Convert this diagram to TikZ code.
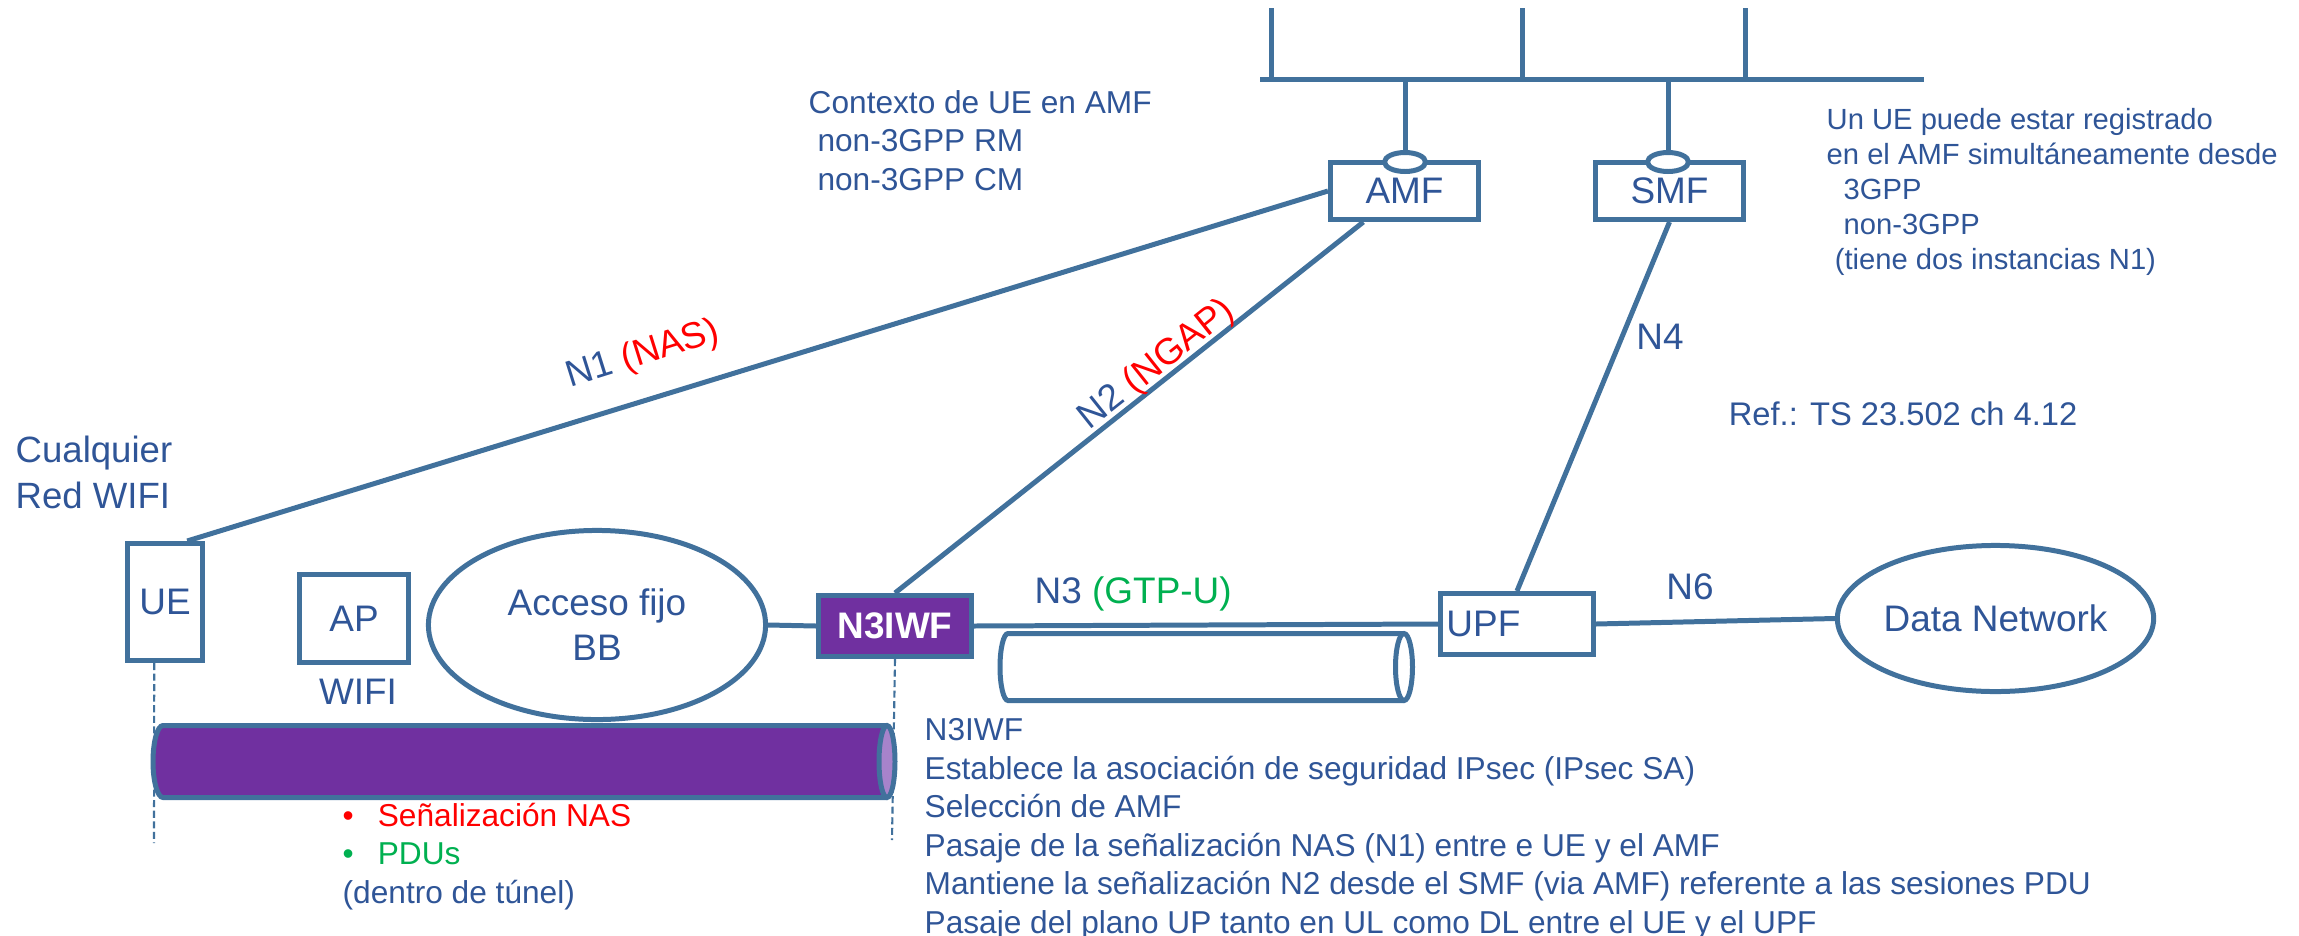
\documentclass[tikz,border=0pt]{standalone}
\usepackage{fontspec}
\setmainfont{Liberation Sans}
\usetikzlibrary{shapes.geometric}
\definecolor{lineblue}{RGB}{65,113,156}
\definecolor{txtblue}{RGB}{47,85,151}
\definecolor{tunnelpurple}{RGB}{112,48,160}
\definecolor{tunnelend}{RGB}{167,131,203}
\definecolor{gtpgreen}{RGB}{0,176,80}
\begin{document}
\begin{tikzpicture}[x=0.01cm,y=-0.01cm,
  link/.style={draw=lineblue,line width=1.42pt},
  nf/.style={draw=lineblue,line width=1.42pt,fill=white,text=txtblue,inner sep=0pt,font=\fontsize{10.5}{12.8}\selectfont},
  cloud/.style={nf,ellipse,align=center},
  port/.style={draw=lineblue,line width=1.42pt,fill=white,ellipse,minimum width=0.41cm,minimum height=0.19cm,inner sep=0pt},
  guide/.style={draw=lineblue,line width=0.6pt,dash pattern=on 2pt off 1pt},
  big/.style={text=txtblue,inner sep=0pt,font=\fontsize{10.5}{12.8}\selectfont},
  note/.style={text=txtblue,inner sep=0pt,align=left,font=\fontsize{9}{10.93}\selectfont}]
  \useasboundingbox (0,0) rectangle (2299,936);

  % service bus
  \coordinate (busL) at (1260,79);
  \coordinate (busR) at (1924,79);
  \draw[link] (busL) -- (busR);
  \foreach \x in {1271,1522,1745} \draw[link] (\x,79) -- (\x,8);

  % network functions
  \node[nf,minimum width=0.75cm,minimum height=1.17cm] (UE) at (165,602) {UE};
  \node[nf,minimum width=1.09cm,minimum height=0.88cm] (AP) at (354,618.5) {AP};
  \node[big] at (358,692) {WIFI};
  \node[cloud,minimum width=3.37cm,minimum height=1.89cm] (BB) at (597,625) {Acceso fijo\\BB};
  \node[nf,fill=tunnelpurple,text=white,font=\bfseries\fontsize{10.5}{12.8}\selectfont,minimum width=1.53cm,minimum height=0.61cm] (N3IWF) at (895,626) {N3IWF};
  \node[nf,minimum width=1.48cm,minimum height=0.57cm] (AMF) at (1404.5,191) {AMF};
  \node[nf,minimum width=1.48cm,minimum height=0.57cm] (SMF) at (1669.5,191) {SMF};
  \node[nf,text width=1.41cm,inner xsep=0.06cm,minimum height=0.61cm,align=left] (UPF) at (1517,624) {UPF};
  \node[cloud,minimum width=3.08cm,minimum height=1.46cm] (DN) at (1995.5,618.5) {Data Network};
  \node[port] (amfport) at (1405,162) {};
  \node[port] (smfport) at (1668,162) {};
  \draw[link] (amfport) -- (amfport |- busL);
  \draw[link] (smfport) -- (smfport |- busL);

  % interfaces
  \draw[link] (UE.70) -- (AMF.west);
  \node[big,rotate=17.4] at (643,355) {N1 \textcolor{red}{(NAS)}};
  \draw[link] (N3IWF.north) -- (AMF.-143);
  \node[big,rotate=38.5] at (1157,365) {N2 \textcolor{red}{(NGAP)}};
  \draw[link] (UPF.north) -- (SMF.south);
  \node[big] at (1660,337) {N4};
  \draw[link] (BB.east) -- (N3IWF.west);
  \draw[link] (N3IWF.east) -- (UPF.west);
  \node[big,anchor=base west] at (1034,603) {N3 \textcolor{gtpgreen}{(GTP-U)}};
  \draw[link] (UPF.east) -- (DN.west);
  \node[big] at (1690,587) {N6};

  % tunnels
  \coordinate (ueFoot) at (154,843);
  \coordinate (n3Foot) at (892,840);
  \draw[guide] (UE.-100) -- (ueFoot);
  \draw[guide] (N3IWF.south) -- (n3Foot);
  \draw[link,fill=white] (1404,633.5) -- (1008,633.5) arc[start angle=270,end angle=90,x radius=8,y radius=33.5] -- (1404,700.5);
  \draw[link,fill=white] (1404,667) ellipse[x radius=8.5,y radius=33.5];
  \draw[link,fill=tunnelpurple] (887,725.5) -- (163,725.5) arc[start angle=270,end angle=90,x radius=10,y radius=36] -- (887,797.5);
  \draw[link,fill=tunnelend] (887,761.5) ellipse[x radius=8,y radius=36];

  % notes (base = last line)
  \node[big,font=\fontsize{10.4}{12.8}\selectfont,anchor=base west,align=left] at (15,508) {Cualquier\\Red WIFI};
  \node[note,anchor=base west] at (808,190) {Contexto de UE en AMF\\\hspace*{2.5pt}non-3GPP RM\\\hspace*{2.5pt}non-3GPP CM};
  \node[note,font=\fontsize{8.3}{9.96}\selectfont,anchor=base west] at (1826,269.5) {Un UE puede estar registrado\\en el AMF simultáneamente desde\\\hspace*{4.8pt}3GPP\\\hspace*{4.8pt}non-3GPP\\\hspace*{2.3pt}(tiene dos instancias N1)};
  \node[note,font=\fontsize{9.3}{11}\selectfont,anchor=base east] at (2078,425) {Ref.: TS 23.502 ch 4.12};
  \node[note,anchor=base west] at (342,903) {\textcolor{red}{\makebox[10pt][l]{•}Señalización NAS}\\\textcolor{gtpgreen}{\makebox[10pt][l]{•}PDUs}\\(dentro de túnel)};
  \node[note,anchor=base west] at (924,933) {N3IWF\\Establece la asociación de seguridad IPsec (IPsec SA)\\Selección de AMF\\Pasaje de la señalización NAS (N1) entre e UE y el AMF\\Mantiene la señalización N2 desde el SMF (via AMF) referente a las sesiones PDU\\Pasaje del plano UP tanto en UL como DL entre el UE y el UPF};
\end{tikzpicture}
\end{document}
